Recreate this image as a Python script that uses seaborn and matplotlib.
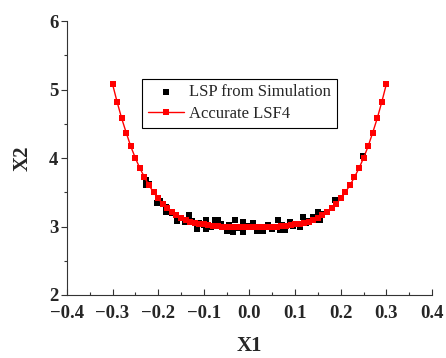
import matplotlib
matplotlib.use("Agg")
import matplotlib.pyplot as plt
import seaborn as sns
import pandas as pd
from matplotlib.ticker import MultipleLocator

sns.set_style("ticks")
plt.rcParams['font.family'] = ['Liberation Serif', 'DejaVu Serif']
plt.rcParams['axes.unicode_minus'] = True

# Accurate LSF4 curve
lsf_x = [-0.30, -0.29, -0.28, -0.27, -0.26, -0.25, -0.24, -0.23, -0.22, -0.21, -0.20,
         -0.19, -0.18, -0.17, -0.16, -0.15, -0.14, -0.13, -0.12, -0.11, -0.10,
         -0.09, -0.08, -0.07, -0.06, -0.05, -0.04, -0.03, -0.02, -0.01, 0.00,
         0.01, 0.02, 0.03, 0.04, 0.05, 0.06, 0.07, 0.08, 0.09, 0.10,
         0.11, 0.12, 0.13, 0.14, 0.15, 0.16, 0.17, 0.18, 0.19, 0.20,
         0.21, 0.22, 0.23, 0.24, 0.25, 0.26, 0.27, 0.28, 0.29, 0.30]
lsf_y = [5.08, 4.82, 4.58, 4.37, 4.17, 4.00, 3.85, 3.72, 3.60, 3.50, 3.41,
         3.33, 3.27, 3.21, 3.17, 3.13, 3.10, 3.07, 3.05, 3.04, 3.03,
         3.02, 3.01, 3.01, 3.00, 3.00, 3.00, 3.00, 3.00, 3.00, 3.00,
         3.00, 3.00, 3.00, 3.00, 3.00, 3.00, 3.01, 3.01, 3.02, 3.03,
         3.04, 3.05, 3.07, 3.10, 3.13, 3.17, 3.21, 3.27, 3.33, 3.41,
         3.50, 3.60, 3.72, 3.85, 4.00, 4.17, 4.37, 4.58, 4.82, 5.08]

# LSP from simulation
sim_x = [-0.226, -0.226, -0.220, -0.202, -0.195, -0.183, -0.183, -0.170, -0.158, -0.150,
         -0.141, -0.132, -0.125, -0.114, -0.110, -0.100, -0.095, -0.095, -0.085, -0.076,
         -0.068, -0.062, -0.050, -0.045, -0.035, -0.032, -0.022, -0.014, -0.014, -0.005,
         0.008, 0.016, 0.020, 0.030, 0.040, 0.050, 0.063, 0.067, 0.072, 0.078,
         0.089, 0.095, 0.111, 0.117, 0.125, 0.130, 0.140, 0.145, 0.151, 0.155,
         0.160, 0.187, 0.249]
sim_y = [3.68, 3.61, 3.62, 3.35, 3.38, 3.28, 3.21, 3.20, 3.08, 3.13,
         3.06, 3.17, 3.08, 2.97, 3.05, 3.02, 3.10, 2.96, 3.00, 3.09,
         3.10, 3.03, 2.94, 3.02, 2.92, 3.09, 2.98, 3.07, 2.92, 3.01,
         3.05, 2.93, 3.00, 2.94, 3.02, 2.97, 3.09, 2.95, 3.02, 2.95,
         3.07, 3.01, 2.99, 3.14, 3.05, 3.08, 3.14, 3.10, 3.21, 3.09,
         3.18, 3.39, 4.03]

sim_df = pd.DataFrame({"X1": sim_x, "X2": sim_y})
lsf_df = pd.DataFrame({"X1": lsf_x, "X2": lsf_y})

fig = plt.figure(figsize=(4.46, 3.58), dpi=100)
ax = fig.add_axes([0.150, 0.176, 0.8186, 0.765])

sns.scatterplot(data=sim_df, x="X1", y="X2", ax=ax, marker="s", s=18, color="black",
                edgecolor="black", linewidth=0, label="LSP from Simulation", zorder=2)
sns.lineplot(data=lsf_df, x="X1", y="X2", ax=ax, color="red", marker="s", markersize=4.5,
             markeredgewidth=0, linewidth=1.0, label="Accurate LSF4", zorder=3, sort=False)

ax.set_xlim(-0.4, 0.4)
ax.set_ylim(2, 6)
ax.xaxis.set_major_locator(MultipleLocator(0.1))
ax.xaxis.set_minor_locator(MultipleLocator(0.05))
ax.yaxis.set_major_locator(MultipleLocator(1))
ax.yaxis.set_minor_locator(MultipleLocator(0.5))
ax.tick_params(axis='x', which='both', direction='in', pad=7)
ax.tick_params(axis='y', which='both', direction='out', pad=2)
ax.tick_params(which='major', length=4, width=0.8, color='#333333')
ax.tick_params(which='minor', length=2.5, width=0.8, color='#333333')
ax.set_xticklabels([f"{v:.1f}".replace("-", "\u2212") for v in ax.get_xticks()])
for lab in ax.get_xticklabels() + ax.get_yticklabels():
    lab.set_fontsize(13.5)
    lab.set_fontweight('bold')

sns.despine(ax=ax)
for sp in ["left", "bottom"]:
    ax.spines[sp].set_linewidth(0.8)
    ax.spines[sp].set_color('#333333')

ax.set_xlabel("X1", fontsize=15, fontweight='bold', labelpad=10)
ax.set_ylabel("X2", fontsize=15, fontweight='bold', labelpad=12)

leg = ax.legend(loc='upper left', bbox_to_anchor=(0.205, 0.79), fontsize=12,
                frameon=True, fancybox=False, framealpha=1, edgecolor='black',
                handlelength=2.2, handletextpad=0.3, borderpad=0.35, labelspacing=0.35,
                borderaxespad=0)
leg.get_frame().set_linewidth(0.8)

fig.savefig("out.png", dpi=100)
